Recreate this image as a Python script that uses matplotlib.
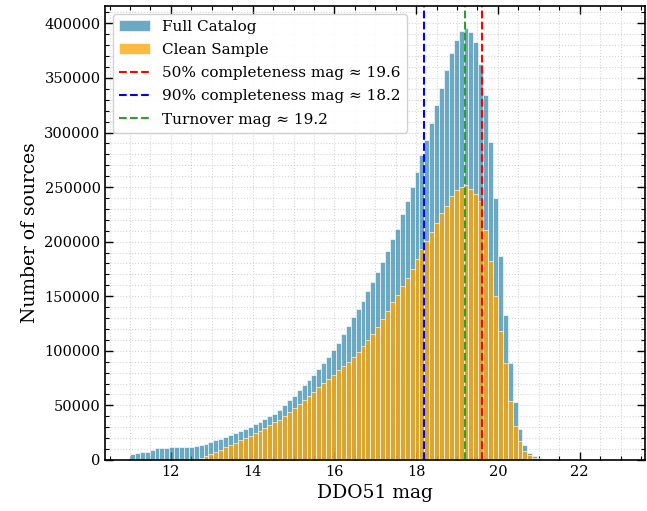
import matplotlib
import matplotlib.pyplot as plt
import numpy as np
from matplotlib.ticker import MultipleLocator

matplotlib.use("Agg")

# histogram bins: 100 bins of 0.12 mag between 11 and 23
bin_range = (11.0, 23.0)
n_bins = 100

# counts per bin, starting at the first bin (11.00-11.12); remaining bins are empty
full_counts = [
    5000, 6000, 7000, 7500, 9500, 10500, 11000, 11200, 11500, 11500,
    11500, 11500, 12000, 12500, 13500, 15000, 16500, 17800, 19200, 20800,
    22500, 24300, 26200, 28200, 30300, 32500, 34800, 37200, 39800, 42500,
    46000, 50000, 54500, 59000, 64000, 68500, 73000, 78000, 83000, 88500,
    94500, 100500, 107000, 115000, 123000, 131000, 138000, 146000, 155000, 163000,
    172000, 181000, 191000, 202000, 212000, 225000, 237000, 250000, 264000, 279000,
    293000, 309000, 325000, 341000, 357000, 373000, 385000, 393000, 396000, 392000,
    383000, 363000, 334000, 291000, 240000, 187000, 133000, 89000, 53000, 28000,
    14000, 6500, 3500, 1500, 500,
]
clean_counts = [
    0, 0, 0, 0, 0, 0, 0, 0, 0, 0,
    0, 0, 0, 600, 1800, 3500, 5000, 7000, 9200, 11400,
    13600, 15800, 18000, 20200, 22300, 24500, 26800, 29200, 31700, 34300,
    37000, 40300, 43800, 47400, 51000, 54800, 58600, 62500, 66500, 70300,
    74200, 78100, 82000, 86000, 90000, 94500, 99000, 104000, 109500, 115000,
    122000, 129000, 136000, 145000, 151500, 159000, 167000, 175000, 184000, 193000,
    201000, 209000, 217500, 226500, 233000, 242000, 247500, 250500, 251500, 248000,
    243500, 237500, 211000, 182000, 150000, 118000, 89000, 54000, 31000, 17000,
    8500, 4500, 2000, 800, 0,
]

mag_50 = 19.6
mag_90 = 18.2
mag_turnover = 19.2


def main():
    plt.rcParams["font.family"] = "DejaVu Serif"
    plt.rcParams["xtick.direction"] = "in"
    plt.rcParams["ytick.direction"] = "in"
    plt.rcParams["xtick.top"] = True
    plt.rcParams["ytick.right"] = True

    edges = np.linspace(bin_range[0], bin_range[1], n_bins + 1)
    centers = 0.5 * (edges[:-1] + edges[1:])

    fig, ax = plt.subplots(figsize=(6.47, 5.11), dpi=100)
    fig.subplots_adjust(left=0.163, right=0.997, bottom=0.1, top=0.988)

    ax.hist(centers[: len(full_counts)], bins=edges, weights=full_counts,
            color="#2e86ab", alpha=0.7, edgecolor="white", linewidth=0.6,
            label="Full Catalog")
    ax.hist(centers[: len(clean_counts)], bins=edges, weights=clean_counts,
            color="orange", alpha=0.75, edgecolor="white", linewidth=0.6,
            label="Clean Sample")

    ax.axvline(mag_50, color="red", linestyle="--", linewidth=1.5,
               label=f"50% completeness mag \u2248 {mag_50:.1f}")
    ax.axvline(mag_90, color="blue", linestyle="--", linewidth=1.5,
               label=f"90% completeness mag \u2248 {mag_90:.1f}")
    ax.axvline(mag_turnover, color="tab:green", linestyle="--", linewidth=1.5,
               label=f"Turnover mag \u2248 {mag_turnover:.1f}")

    ax.xaxis.set_major_locator(MultipleLocator(2))
    ax.xaxis.set_minor_locator(MultipleLocator(0.5))
    ax.yaxis.set_major_locator(MultipleLocator(50000))
    ax.yaxis.set_minor_locator(MultipleLocator(10000))
    ax.tick_params(which="major", length=6, width=1, labelsize=10.5)
    ax.tick_params(which="minor", length=3, width=0.8)
    for spine in ax.spines.values():
        spine.set_linewidth(1.2)

    ax.grid(which="both", linestyle=":", color="#bbbbbb", alpha=0.6, linewidth=0.8)
    ax.set_axisbelow(True)

    ax.set_xlabel("DDO51 mag", fontsize=13.5)
    ax.set_ylabel("Number of sources", fontsize=13.5)

    ax.legend(loc="upper left", fontsize=11, labelspacing=0.6,
              framealpha=0.9, edgecolor="#cccccc")

    fig.savefig("out.png", dpi=100)


if __name__ == "__main__":
    main()
